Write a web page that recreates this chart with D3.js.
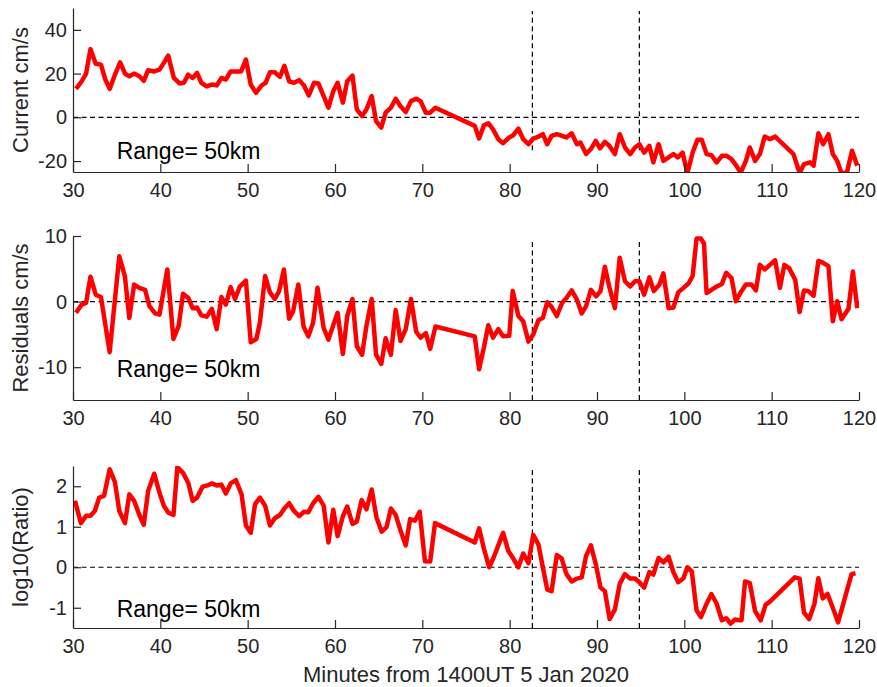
<!DOCTYPE html>
<html><head><meta charset="utf-8">
<script src="https://cdn.jsdelivr.net/npm/d3@7/dist/d3.min.js"></script>
<style>body{margin:0;background:#fff}svg{display:block}</style>
</head><body><svg id="chart" width="877" height="687"></svg>
<script>
// ---- data ----
const currentMinutes = [30.35,31.0,31.5,32.0,32.6,33.2,33.7,34.2,34.8,35.4,35.95,36.45,37.0,37.6,38.1,38.6,39.3,39.9,40.4,40.9,41.55,42.2,42.7,43.2,43.7,44.2,44.7,45.3,45.9,46.45,47.0,47.5,48.05,48.65,49.25,49.8,50.35,50.95,51.6,52.05,52.55,53.1,53.7,54.2,54.75,55.3,55.9,56.45,57.0,57.6,58.1,58.7,59.25,59.8,60.3,60.9,61.4,62.0,62.5,63.1,63.6,64.2,64.7,65.3,65.8,66.4,66.95,67.5,68.1,68.7,69.3,69.8,70.4,70.9,71.5,76.0,76.5,77.05,77.55,78.1,78.7,79.25,79.95,80.4,81.0,81.55,82.15,82.7,83.3,83.8,84.3,84.8,85.4,86.0,86.5,87.1,87.7,88.1,88.75,89.3,89.85,90.35,90.9,91.4,92.05,92.6,93.2,93.8,94.35,94.85,95.4,96.0,96.45,97.05,97.6,98.2,98.75,99.25,99.8,100.35,100.95,101.5,102.0,102.55,103.1,103.7,104.3,104.85,105.4,105.95,106.45,107.05,107.5,108.1,108.65,109.2,109.8,110.4,112.5,113.2,113.7,114.4,114.8,115.35,115.9,116.5,117.0,117.5,118.0,118.6,119.2,119.8];
const currentValues = [13.0,16.5,20.0,31.2,24.5,24.1,17.3,13.0,19.5,25.1,20.0,18.8,20.0,18.8,16.7,21.5,21.0,21.8,24.9,28.2,18.0,15.5,15.8,19.5,18.0,20.3,15.8,14.2,15.0,14.6,18.0,17.3,21.0,21.0,21.0,26.4,15.0,11.2,14.6,15.8,20.6,20.6,18.5,23.6,16.5,15.8,17.0,14.6,10.0,15.8,15.5,9.7,4.4,12.0,15.8,6.7,16.5,19.1,3.6,0.6,3.6,9.7,-1.7,-4.7,2.1,4.4,8.5,5.1,2.4,7.4,8.5,7.4,2.1,2.1,4.4,-3.9,-9.7,-3.6,-2.7,-5.5,-10.0,-11.8,-9.2,-8.2,-5.2,-10.0,-12.3,-9.7,-8.8,-7.7,-12.3,-8.5,-7.7,-8.5,-9.2,-7.3,-12.3,-11.5,-16.8,-14.5,-10.8,-14.2,-11.2,-13.0,-16.8,-7.7,-13.8,-16.8,-13.8,-12.3,-16.1,-13.0,-20.6,-12.3,-19.9,-18.3,-16.8,-18.3,-16.1,-25.5,-16.1,-10.3,-10.3,-16.8,-17.3,-20.6,-17.6,-17.6,-19.1,-22.1,-25.3,-19.9,-13.8,-19.9,-16.8,-8.8,-10.0,-8.8,-16.8,-25.5,-21.4,-20.6,-22.1,-7.3,-12.3,-7.7,-16.8,-19.9,-25.5,-25.5,-15.3,-22.1];

const residualMinutes = [30.35,31.0,31.5,32.0,32.6,33.2,34.2,35.3,35.95,36.45,37.0,37.6,38.25,38.75,39.4,39.9,40.8,41.5,42.1,42.6,43.2,43.7,44.2,44.7,45.3,45.9,46.45,47.0,47.5,48.05,48.55,49.1,49.8,50.35,51.0,51.4,52.0,52.55,53.1,53.6,54.15,54.75,55.2,55.8,56.4,56.95,57.5,58.0,58.7,59.25,59.9,60.3,60.9,61.4,62.0,62.5,63.1,63.6,64.2,64.7,65.3,65.8,66.4,66.95,67.5,68.1,68.7,69.3,69.8,70.4,70.9,71.5,76.0,76.5,77.05,77.55,78.1,78.7,79.25,79.95,80.35,81.0,81.55,82.15,82.7,83.3,83.8,84.3,84.8,85.4,86.0,86.5,87.1,87.7,88.25,88.75,89.3,89.9,90.4,90.9,91.4,92.05,92.6,93.2,93.8,94.35,94.85,95.4,96.0,96.5,97.15,97.6,98.2,98.75,99.3,99.9,100.5,100.95,101.4,101.9,102.25,102.55,103.1,103.7,104.3,104.8,105.4,105.9,106.45,107.05,107.7,108.2,108.65,109.2,109.8,110.4,110.95,111.45,112.0,112.7,113.2,113.7,114.2,114.8,115.35,115.9,116.5,117.0,117.5,118.0,118.8,119.3,119.8];
const residualValues = [-1.7,-0.45,-0.2,3.8,1.05,0.7,-7.7,6.9,3.8,-2.5,2.6,2.1,1.8,-0.7,-1.8,-2.0,4.9,-5.7,-3.7,1.2,0.55,-1.0,-0.9,-2.1,-2.3,-1.1,-4.2,0.7,-0.45,2.2,0.4,2.3,3.2,-6.2,-5.7,-3.2,3.9,1.4,0.4,1.6,4.9,-2.6,-1.5,2.6,-3.8,-5.3,-3.2,2.1,-4.0,-5.8,-3.2,-1.7,-8.0,-2.2,0.4,-6.8,-8.1,-3.7,0.4,-8.1,-9.5,-5.6,-8.1,-1.3,-6.0,-4.2,0.4,-4.6,-5.5,-4.8,-7.2,-3.8,-5.3,-10.3,-7.0,-3.6,-5.5,-4.2,-5.3,-5.2,1.6,-2.2,-3.0,-6.1,-5.0,-2.8,-2.5,-0.1,-0.8,-2.2,-0.2,0.55,1.7,0.3,-1.8,-0.7,1.8,0.8,1.6,5.3,2.3,-1.0,6.7,3.1,2.3,3.1,3.1,1.05,3.7,1.6,2.6,4.3,-1.0,-0.9,1.4,2.1,2.8,3.9,9.6,9.6,8.85,1.3,1.8,2.3,2.7,4.4,3.6,0.05,1.4,2.6,2.6,1.7,5.6,4.9,5.6,6.3,2.1,5.6,5.1,3.3,-1.6,1.7,1.6,0.9,6.2,5.9,5.4,-3.0,0.05,-2.7,-1.1,4.6,-1.0];

const ratioMinutes = [30.23,30.9,31.5,32.0,32.5,33.0,33.55,34.2,34.8,35.3,35.95,36.45,37.0,37.6,38.1,38.6,39.3,39.9,40.4,40.9,41.5,41.95,42.6,43.2,43.7,44.2,44.85,45.4,45.9,46.45,47.0,47.5,48.05,48.65,49.3,49.8,50.35,50.85,51.4,52.0,52.55,53.1,53.7,54.2,54.75,55.3,55.9,56.45,56.95,57.5,58.1,58.7,59.25,59.8,60.3,60.9,61.4,62.0,62.5,63.05,63.6,64.2,64.75,65.35,65.9,66.4,66.95,67.5,68.1,68.6,69.15,69.7,70.3,70.9,71.45,76.0,76.5,77.05,77.65,78.2,78.7,79.25,79.85,80.4,81.0,81.55,82.15,82.7,83.3,83.8,84.3,84.8,85.4,85.95,86.5,87.1,87.7,88.25,88.75,89.3,89.9,90.4,90.9,91.45,92.05,92.6,93.2,93.8,94.35,94.85,95.4,96.0,96.45,97.05,97.6,98.2,98.75,99.3,99.9,100.35,100.85,101.4,101.9,102.55,103.1,103.7,104.3,104.8,105.3,105.8,106.3,106.55,106.95,107.5,108.1,108.75,109.3,109.8,112.65,113.2,113.7,114.3,114.9,115.35,115.85,116.4,117.0,117.6,118.1,118.6,119.15,119.6];
const ratioValues = [1.64,1.09,1.27,1.27,1.39,1.72,1.76,2.42,2.1,1.39,1.09,1.8,1.64,1.29,1.05,1.88,2.31,1.84,1.52,1.35,1.29,2.47,2.33,2.08,1.64,1.72,1.99,2.02,2.07,2.02,2.04,1.82,2.07,2.15,1.8,1.03,0.85,1.56,1.72,1.52,1.03,1.21,1.29,1.45,1.58,1.39,1.26,1.37,1.36,1.58,1.74,1.52,0.61,1.42,0.77,1.26,1.5,1.07,1.13,1.66,1.43,1.92,1.23,0.88,0.99,1.45,1.29,0.91,0.54,1.19,1.15,1.37,0.15,0.14,1.09,0.61,0.96,0.46,0.0,0.26,0.54,0.85,0.4,0.22,0.0,0.34,0.1,0.8,0.56,0.0,-0.55,-0.59,0.3,0.22,-0.17,-0.35,-0.28,-0.25,0.28,0.54,0.04,-0.5,-0.59,-1.28,-1.04,-0.41,-0.17,-0.28,-0.28,-0.37,-0.5,-0.12,-0.18,0.23,0.12,0.26,-0.12,-0.37,-0.27,0.0,-0.1,-1.06,-1.23,-0.9,-0.66,-0.9,-1.31,-1.26,-1.39,-1.29,-1.31,-1.31,-0.35,-0.39,-1.08,-1.31,-0.93,-0.85,-0.25,-0.28,-1.12,-1.28,-0.9,-0.27,-0.77,-0.66,-1.0,-1.36,-0.98,-0.59,-0.17,-0.15];

const xTickValues = [30,40,50,60,70,80,90,100,110,120];
const currentTicks = [-20,0,20,40];
const residualTicks = [-10,0,10];
const ratioTicks = [-1,0,1,2];
const markerMinutes = [82.6, 94.85];
const yLabels = ["Current cm/s", "Residuals cm/s", "log10(Ratio)"];
const rangeText = "Range= 50km";
const xLabelText = "Minutes from 1400UT 5 Jan 2020";

// ---- layout ----
const FONT = "'Liberation Sans', Arial, Helvetica, sans-serif";
const AXIS = "#262626";
const svg = d3.select("#chart");
const x = d3.scaleLinear().domain([30, 120]).range([73, 859]);
const fmt = d => String(d);

const panels = [
  {t: currentMinutes, v: currentValues, domain: [-25, 50], top: 8, bottom: 172, ticks: currentTicks, label: yLabels[0], vExtent: [-15, 48.6], textY: -15.5},
  {t: residualMinutes, v: residualValues, domain: [-15, 10], top: 236, bottom: 400, ticks: residualTicks, label: yLabels[1], vExtent: [-15, 9.1], textY: -10.3},
  {t: ratioMinutes, v: ratioValues, domain: [-1.5, 2.5], top: 466, bottom: 628, ticks: ratioTicks, label: yLabels[2], vExtent: [-1.5, 2.42], textY: -1.03}
];

panels.forEach((p, i) => {
  const y = d3.scaleLinear().domain(p.domain).range([p.bottom, p.top]);
  const g = svg.append("g");

  g.append("clipPath").attr("id", "clip" + i)
    .append("rect").attr("x", x.range()[0]).attr("y", p.top)
    .attr("width", x.range()[1] - x.range()[0]).attr("height", p.bottom - p.top);

  // zero line
  g.append("line")
    .attr("x1", x(30)).attr("x2", x(120)).attr("y1", y(0)).attr("y2", y(0))
    .attr("stroke", "#000").attr("stroke-width", 1.2).attr("stroke-dasharray", "5,3.5");

  // marker lines
  markerMinutes.forEach(m => {
    g.append("line")
      .attr("x1", x(m)).attr("x2", x(m)).attr("y1", y(p.vExtent[0])).attr("y2", y(p.vExtent[1]))
      .attr("stroke", "#000").attr("stroke-width", 1.2).attr("stroke-dasharray", "5,3.5");
  });

  // data line
  const data = p.t.map((t, k) => [t, p.v[k]]);
  g.append("path").datum(data)
    .attr("clip-path", "url(#clip" + i + ")")
    .attr("fill", "none").attr("stroke", "#ff0000").attr("stroke-width", 4.5)
    .attr("stroke-linejoin", "round")
    .attr("d", d3.line().x(d => x(d[0])).y(d => y(d[1])));

  // axes
  const yAxis = g.append("g").attr("transform", `translate(${x.range()[0]},0)`)
    .call(d3.axisLeft(y).tickValues(p.ticks).tickFormat(fmt).tickSize(-8).tickSizeOuter(0).tickPadding(6));
  const xAxis = g.append("g").attr("transform", `translate(0,${p.bottom})`)
    .call(d3.axisBottom(x).tickValues(xTickValues).tickFormat(fmt).tickSize(-8).tickSizeOuter(0).tickPadding(11));
  [yAxis, xAxis].forEach(a => {
    a.select(".domain").attr("stroke", AXIS).attr("stroke-width", 1.2);
    a.selectAll(".tick line").attr("stroke", AXIS).attr("stroke-width", 1.2);
    a.selectAll(".tick text").attr("fill", AXIS).style("font-family", FONT).style("font-size", "20px");
  });

  // y label
  g.append("text")
    .attr("transform", `translate(20,${(p.top + p.bottom) / 2}) rotate(-90)`)
    .attr("text-anchor", "middle").attr("dominant-baseline", "central")
    .style("font-family", FONT).style("font-size", "22px").attr("fill", AXIS)
    .text(p.label);

  // range annotation
  g.append("text")
    .attr("x", x(35)).attr("y", y(p.textY))
    .attr("dominant-baseline", "central")
    .style("font-family", FONT).style("font-size", "23px").attr("fill", "#000")
    .text(rangeText);
});

svg.append("text")
  .attr("x", (x.range()[0] + x.range()[1]) / 2).attr("y", 682)
  .attr("text-anchor", "middle")
  .style("font-family", FONT).style("font-size", "22px").attr("fill", AXIS)
  .text(xLabelText);
</script>
</body></html>
